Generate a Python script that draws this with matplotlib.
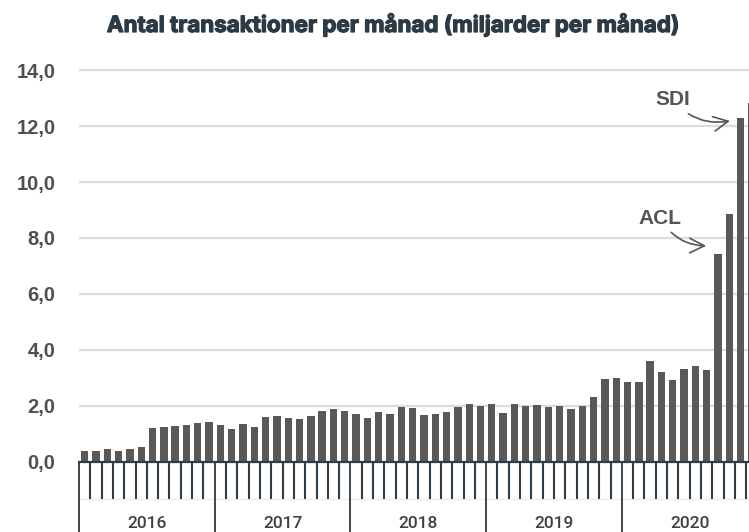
import matplotlib
matplotlib.use("Agg")
import matplotlib.pyplot as plt
import matplotlib.transforms as mtransforms
import matplotlib.patheffects as pe
import numpy as np

# ---- data ----
years = ["2016", "2017", "2018", "2019", "2020"]
values_2016 = [0.40, 0.40, 0.45, 0.40, 0.45, 0.54, 1.21, 1.24, 1.29, 1.32, 1.38, 1.42]
values_2017 = [1.31, 1.18, 1.35, 1.25, 1.61, 1.65, 1.58, 1.55, 1.64, 1.81, 1.90, 1.82]
values_2018 = [1.70, 1.57, 1.79, 1.73, 1.98, 1.93, 1.69, 1.73, 1.79, 1.98, 2.07, 2.01]
values_2019 = [2.06, 1.76, 2.06, 1.99, 2.04, 1.98, 2.00, 1.90, 2.00, 2.32, 2.98, 2.99]
values_2020 = [2.85, 2.86, 3.62, 3.20, 2.93, 3.31, 3.44, 3.27, 7.42, 8.87, 12.30, 12.83]
yticks = [0, 2, 4, 6, 8, 10, 12, 14]
ytick_labels = ["0,0", "2,0", "4,0", "6,0", "8,0", "10,0", "12,0", "14,0"]
title = "Antal transaktioner per månad (miljarder per månad)"
annotations = [("SDI", 58), ("ACL", 56)]  # label, bar index pointed at

values = values_2016 + values_2017 + values_2018 + values_2019 + values_2020
n = len(values)
x = np.arange(n)

W, H = 749, 532
fig = plt.figure(figsize=(W / 100, H / 100), dpi=100)
px_per_month = 11.31
px_per_unit = 28.0
ymax = 14.2
left = 79 / W
bottom = (H - 462) / H
ax = fig.add_axes([left, bottom, n * px_per_month / W, ymax * px_per_unit / H])

bar_color = "#595959"
ax.bar(x, values, width=0.65, color=bar_color, zorder=3)

ax.set_xlim(-0.5, n - 0.5)
ax.set_ylim(0, ymax)

# grid
for yv in yticks[1:]:
    ax.axhline(yv, color="#dcdcdc", lw=1.6, zorder=1)

ax.set_yticks(yticks)
ax.set_yticklabels(ytick_labels)
ax.tick_params(axis="y", length=0, pad=17, labelsize=14.5, labelcolor="#4f4f4f")
for lab in ax.get_yticklabels():
    lab.set_fontfamily("Liberation Sans")
    lab.set_fontweight("bold")

for s in ["left", "right", "top"]:
    ax.spines[s].set_visible(False)
axis_color = "#2f3d48"
ax.spines["bottom"].set_color(axis_color)
ax.spines["bottom"].set_linewidth(1.6)
ax.spines["bottom"].set_zorder(4)

# x ticks: year boundaries (major) and month boundaries (minor)
year_bounds = [i * 12 - 0.5 for i in range(len(years))]
month_bounds = [i - 0.5 for i in range(n + 1) if i % 12 != 0]
ax.set_xticks(year_bounds)
ax.set_xticklabels([])
ax.set_xticks(month_bounds, minor=True)
ax.tick_params(axis="x", which="major", length=52, width=1.4, color="#3b4752", direction="out")
ax.tick_params(axis="x", which="minor", length=26.6, width=1.5, color=axis_color, direction="out")

trans = mtransforms.blended_transform_factory(ax.transData, ax.transAxes)
axes_h_px = ymax * px_per_unit
# faint line under month ticks
ax.plot([-0.5, n - 0.5], [-37 / axes_h_px] * 2, transform=trans, color="#ededed",
        lw=1.0, clip_on=False, zorder=0)
for i, yr in enumerate(years):
    ax.text(i * 12 + 5.5, -62 / axes_h_px, yr, transform=trans, ha="center", va="center",
            fontsize=12.5, color="#404040", family="Roboto", fontweight="medium")

# annotations
ann_style = dict(arrowstyle="->,head_length=0.7,head_width=0.35", color="#555555", lw=1.2,
                 connectionstyle="arc3,rad=0.3", shrinkA=2, shrinkB=2)
lab, idx = annotations[0]
ax.annotate(lab, xy=(idx - 0.7, values[idx] - 0.1), xytext=(idx - 6.0, values[idx] + 0.63),
            ha="center", va="center", fontsize=15, color="#555555", family="Liberation Sans",
            fontweight="bold", arrowprops=ann_style, zorder=5)
lab, idx = annotations[1]
ax.annotate(lab, xy=(idx - 0.8, values[idx] + 0.3), xytext=(idx - 5.1, values[idx] + 1.29),
            ha="center", va="center", fontsize=15, color="#555555", family="Liberation Sans",
            fontweight="bold", arrowprops=ann_style, zorder=5)

title_color = "#2b3a44"
fig.text(393 / W, 1 - 25 / H, title, ha="center", va="center", fontsize=16.1,
         fontweight="bold", family="Inter", color=title_color,
         path_effects=[pe.withStroke(linewidth=0.9, foreground=title_color)])

fig.savefig("out.png", dpi=100)
